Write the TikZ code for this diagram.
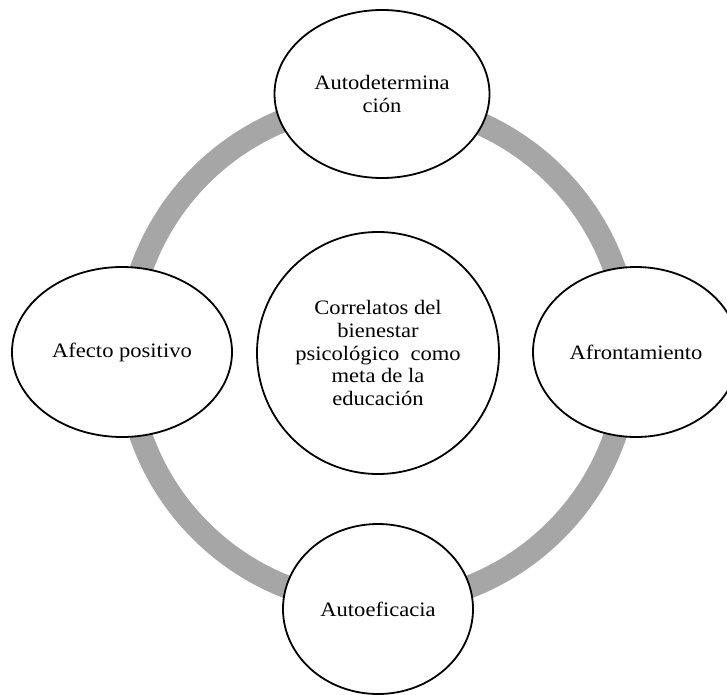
\documentclass[tikz,border=0pt]{standalone}
\usepackage{fontspec}
\setmainfont{Liberation Serif}[FakeStretch=1.1]
\usetikzlibrary{shapes.geometric}
\definecolor{ringgray}{RGB}{166,166,166}
\tikzset{
  ringline/.style={draw=ringgray, line width=23bp},
  bubble/.style={ellipse, draw=black, line width=1.8bp, fill=white, inner sep=0pt,
    align=center, font=\fontsize{20.5bp}{22.6bp}\selectfont}
}
\begin{document}
\begin{tikzpicture}[x=1bp,y=-1bp]
\useasboundingbox (0,0) rectangle (727,695);
\clip (0,0) rectangle (727,695);
\coordinate (c) at (378,353);
\draw[ringline] (c) circle[radius=251];
\node[bubble, minimum width=242bp, minimum height=242bp] (center) at (c)
  {Correlatos del\\bienestar\\psicológico\ \ como\\meta de la\\educación};
\node[bubble, minimum width=215bp, minimum height=168bp] (top) at (382,94)
  {Autodetermina\\ción};
\node[bubble, minimum width=220bp, minimum height=170bp] (left) at (122,352)
  {Afecto positivo};
\node[bubble, minimum width=206bp, minimum height=170bp] (right) at (636,352)
  {Afrontamiento};
\node[bubble, minimum width=190bp, minimum height=170bp] (bottom) at (378,609)
  {Autoeficacia};
\end{tikzpicture}
\end{document}
